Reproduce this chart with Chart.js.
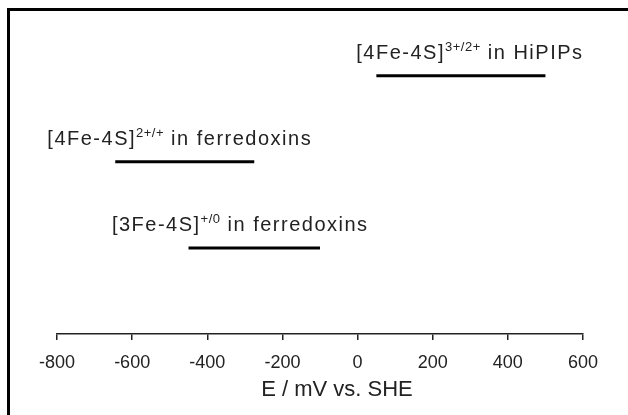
<!DOCTYPE html>
<html>
<head>
<meta charset="utf-8">
<script src="https://cdn.jsdelivr.net/npm/chart.js@4.4.1/dist/chart.umd.min.js"></script>
<style>
  html, body { margin: 0; padding: 0; background: #fff; overflow: hidden; }
  #wrap { position: relative; width: 628px; height: 415px; overflow: hidden; }
  #frame { position: absolute; left: 7px; top: 8px; width: 700px; height: 500px; border: 3px solid #000; }
  #chart { position: absolute; left: 0; top: 0; }
</style>
</head>
<body>
<div id="wrap">
  <div id="frame"></div>
  <canvas id="chart" width="628" height="415"></canvas>
</div>
<script>
// redox couples, one row each
const clusterCores = ['[4Fe-4S]', '[4Fe-4S]', '[3Fe-4S]'];
const chargeStates = ['3+/2+', '2+/+', '+/0'];
const proteinTypes = ['in HiPIPs', 'in ferredoxins', 'in ferredoxins'];
const rangeLow = [50, -645, -450];   // mV vs. SHE
const rangeHigh = [500, -275, -100];
const rowLevels = [3, 2, 1];
const axisTitle = 'E / mV vs. SHE';

const FONT = '"Liberation Sans", Arial, sans-serif';
const INK = '#222';

const datasets = rowLevels.map((lvl, i) => ({
  data: [{ x: rangeLow[i], y: lvl }, { x: rangeHigh[i], y: lvl }],
  showLine: true,
  borderColor: '#000',
  borderWidth: 3,
  pointRadius: 0,
  borderCapStyle: 'butt'
}));

// labels with superscript charge states, centred over each bar
const coupleLabels = {
  id: 'coupleLabels',
  afterDatasetsDraw(chart, args, opts) {
    const { ctx, scales: { x, y } } = chart;
    ctx.save();
    ctx.fillStyle = INK;
    ctx.textBaseline = 'alphabetic';
    rowLevels.forEach((lvl, i) => {
      const parts = [
        { t: clusterCores[i], f: `20px ${FONT}`, ls: '1.5px', dy: 0 },
        { t: chargeStates[i], f: `13px ${FONT}`, ls: '0.5px', dy: -8 },
        { t: ' ' + proteinTypes[i], f: `20px ${FONT}`, ls: '1.5px', dy: 0 }
      ];
      let total = 0;
      parts.forEach(p => {
        ctx.font = p.f;
        ctx.letterSpacing = p.ls;
        p.w = ctx.measureText(p.t).width;
        total += p.w;
      });
      const mid = (x.getPixelForValue(rangeLow[i]) + x.getPixelForValue(rangeHigh[i])) / 2;
      let px = mid - total / 2 + opts.nudge[i];
      const base = y.getPixelForValue(lvl) - 17;
      parts.forEach(p => {
        ctx.font = p.f;
        ctx.letterSpacing = p.ls;
        ctx.fillText(p.t, px, base + p.dy);
        px += p.w;
      });
    });
    // axis title
    ctx.letterSpacing = '0px';
    ctx.font = `22px ${FONT}`;
    ctx.textAlign = 'center';
    ctx.fillText(axisTitle, opts.titleX, opts.titleY);
    ctx.restore();
  }
};

new Chart(document.getElementById('chart').getContext('2d'), {
  type: 'scatter',
  data: { datasets },
  options: {
    responsive: false,
    animation: false,
    layout: { padding: { left: 57, right: 45, top: 0, bottom: 0 } },
    plugins: {
      legend: { display: false },
      tooltip: { enabled: false },
      coupleLabels: { nudge: [9, -5, -14], titleX: 337, titleY: 396 }
    },
    scales: {
      x: {
        type: 'linear',
        min: -800,
        max: 600,
        ticks: {
          stepSize: 200,
          color: INK,
          padding: 12,
          maxRotation: 0,
          font: { family: FONT, size: 18 }
        },
        grid: {
          display: true,
          drawOnChartArea: false,
          drawTicks: true,
          tickLength: 6,
          color: INK,
          lineWidth: 1.5
        },
        border: { display: true, color: INK, width: 1.5 },
        afterFit(scale) { scale.height = 81; }
      },
      y: { display: false, min: 0, max: 3.88 }
    }
  },
  plugins: [coupleLabels]
});
</script>
</body>
</html>
